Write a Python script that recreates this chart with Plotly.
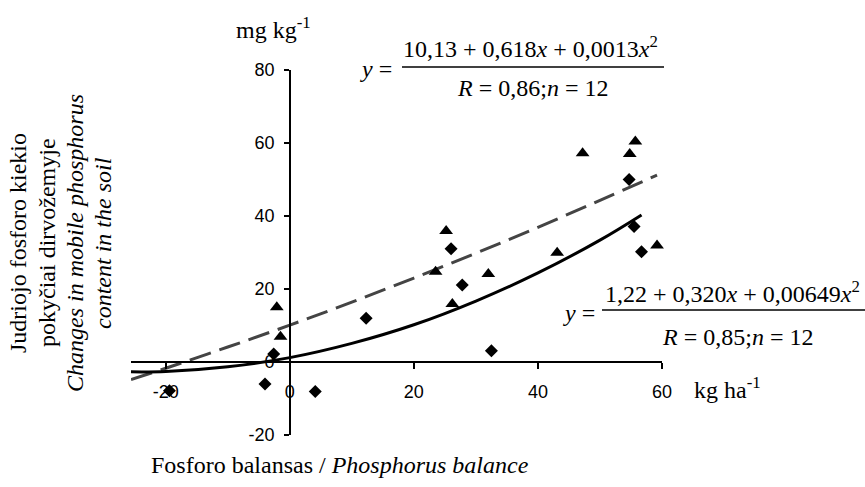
import plotly.graph_objects as go

# ---- data ----
diamond_x = [-19.4, -4.0, -2.6, 4.1, 12.3, 26.0, 27.8, 32.5, 54.7, 55.5, 56.7]
diamond_y = [-7.9, -6.0, 2.2, -8.1, 12.0, 31.0, 21.1, 3.1, 50.0, 37.1, 30.2]

triangle_x = [-2.1, -1.5, 23.5, 25.2, 26.2, 32.0, 43.1, 47.2, 54.8, 55.7, 59.2]
triangle_y = [15.0, 6.9, 24.7, 35.9, 15.9, 24.1, 29.9, 57.2, 57.0, 60.4, 31.9]

solid_x = [-25.6, -20, -10, 0, 10, 20, 30, 40, 50, 56.7]
solid_y = [-2.7, -2.6, -1.3, 1.2, 5.1, 10.2, 16.7, 24.4, 33.4, 40.3]

dashed_x = [-25.6, -20, -10, 0, 10, 20, 30, 40, 50, 59.2]
dashed_y = [-4.8, -1.7, 4.1, 10.1, 16.4, 23.0, 29.8, 36.9, 44.3, 51.2]

x_ticks = [-20, 0, 20, 40, 60]
y_ticks = [-20, 0, 20, 40, 60, 80]
x_range = [-25.6, 60]
y_range = [-20, 80]

# ---- geometry (pixels) ----
W, H = 865, 487
L, R, T, B = 131, 662, 70, 435


def px(x):
    return (x - L) / (R - L)


def py(y):
    return (B - y) / (B - T)


SERIF = "'Times New Roman', 'Liberation Serif', 'DejaVu Serif', serif"
SANS = "Arial, 'Liberation Sans', sans-serif"

fig = go.Figure()

fig.add_trace(go.Scatter(x=dashed_x, y=dashed_y, mode="lines", line_shape="spline",
                         line=dict(color="#444444", width=3, dash="22px,9px"),
                         showlegend=False, hoverinfo="skip"))
fig.add_trace(go.Scatter(x=solid_x, y=solid_y, mode="lines", line_shape="spline",
                         line=dict(color="black", width=3),
                         showlegend=False, hoverinfo="skip"))
fig.add_trace(go.Scatter(x=diamond_x, y=diamond_y, mode="markers",
                         marker=dict(symbol="diamond", size=10, color="black"),
                         showlegend=False, cliponaxis=False))
fig.add_trace(go.Scatter(x=triangle_x, y=triangle_y, mode="markers",
                         marker=dict(symbol="triangle-up", size=12, color="black"),
                         showlegend=False, cliponaxis=False))

fig.update_layout(
    width=W, height=H,
    margin=dict(l=L, r=W - R, t=T, b=H - B),
    paper_bgcolor="white", plot_bgcolor="white",
    xaxis=dict(range=x_range, anchor="free", position=(0 - y_range[0]) / (y_range[1] - y_range[0]),
               showline=True, linecolor="black", linewidth=1.5,
               ticks="outside", ticklen=6, tickwidth=1.5, tickcolor="black",
               tickvals=x_ticks, ticktext=[str(v) for v in x_ticks],
               tickfont=dict(family=SANS, size=18, color="black"),
               ticklabelstandoff=8,
               showgrid=False, zeroline=False),
    yaxis=dict(range=y_range, anchor="free", position=(0 - x_range[0]) / (x_range[1] - x_range[0]),
               showline=True, linecolor="black", linewidth=1.5,
               ticks="outside", ticklen=5, tickwidth=1.5, tickcolor="black",
               tickvals=y_ticks, ticktext=[str(v) for v in y_ticks],
               tickfont=dict(family=SANS, size=18, color="black"),
               ticklabelstandoff=6,
               showgrid=False, zeroline=False),
)

anns = []


def ann(text, x, y, xanchor="center", yanchor="middle", angle=0, size=24):
    anns.append(dict(text=text, x=px(x), y=py(y), xref="paper", yref="paper",
                     xanchor=xanchor, yanchor=yanchor, showarrow=False, textangle=angle,
                     font=dict(family=SERIF, size=size, color="black")))


ann("mg kg<sup>-1</sup>", 273, 28)
ann("kg ha<sup>-1</sup>", 727, 388)
ann("Fosforo balansas / <i>Phosphorus balance</i>", 340, 465)

# y-axis title, four rotated lines
ann("Judriojo fosforo kiekio", 18, 243, angle=-90)
ann("pokyčiai dirvožemyje", 47, 243, angle=-90)
ann("<i>Changes in mobile phosphorus</i>", 75, 243, angle=-90)
ann("<i>content in the soil</i>", 103, 243, angle=-90)

# top equation
ann("<i>y</i> =", 394, 69, xanchor="right")
ann("10,13 + 0,618<i>x</i> + 0,0013<i>x</i><sup>2</sup>", 530, 47)
ann("<i>R</i> = 0,86;<i>n</i> = 12", 532, 88)

# bottom equation
ann("<i>y</i> =", 597, 313, xanchor="right")
ann("1,22 + 0,320<i>x</i> + 0,00649<i>x</i><sup>2</sup>", 603, 292, xanchor="left")
ann("<i>R</i> = 0,85;<i>n</i> = 12", 737, 337)

fig.update_layout(annotations=anns)

fig.add_shape(type="line", xref="paper", yref="paper",
              x0=px(402), x1=px(664), y0=py(67), y1=py(67),
              line=dict(color="black", width=1.5))
fig.add_shape(type="line", xref="paper", yref="paper",
              x0=px(602), x1=px(880), y0=py(310), y1=py(310),
              line=dict(color="black", width=1.5))

fig.write_html("out.html")
